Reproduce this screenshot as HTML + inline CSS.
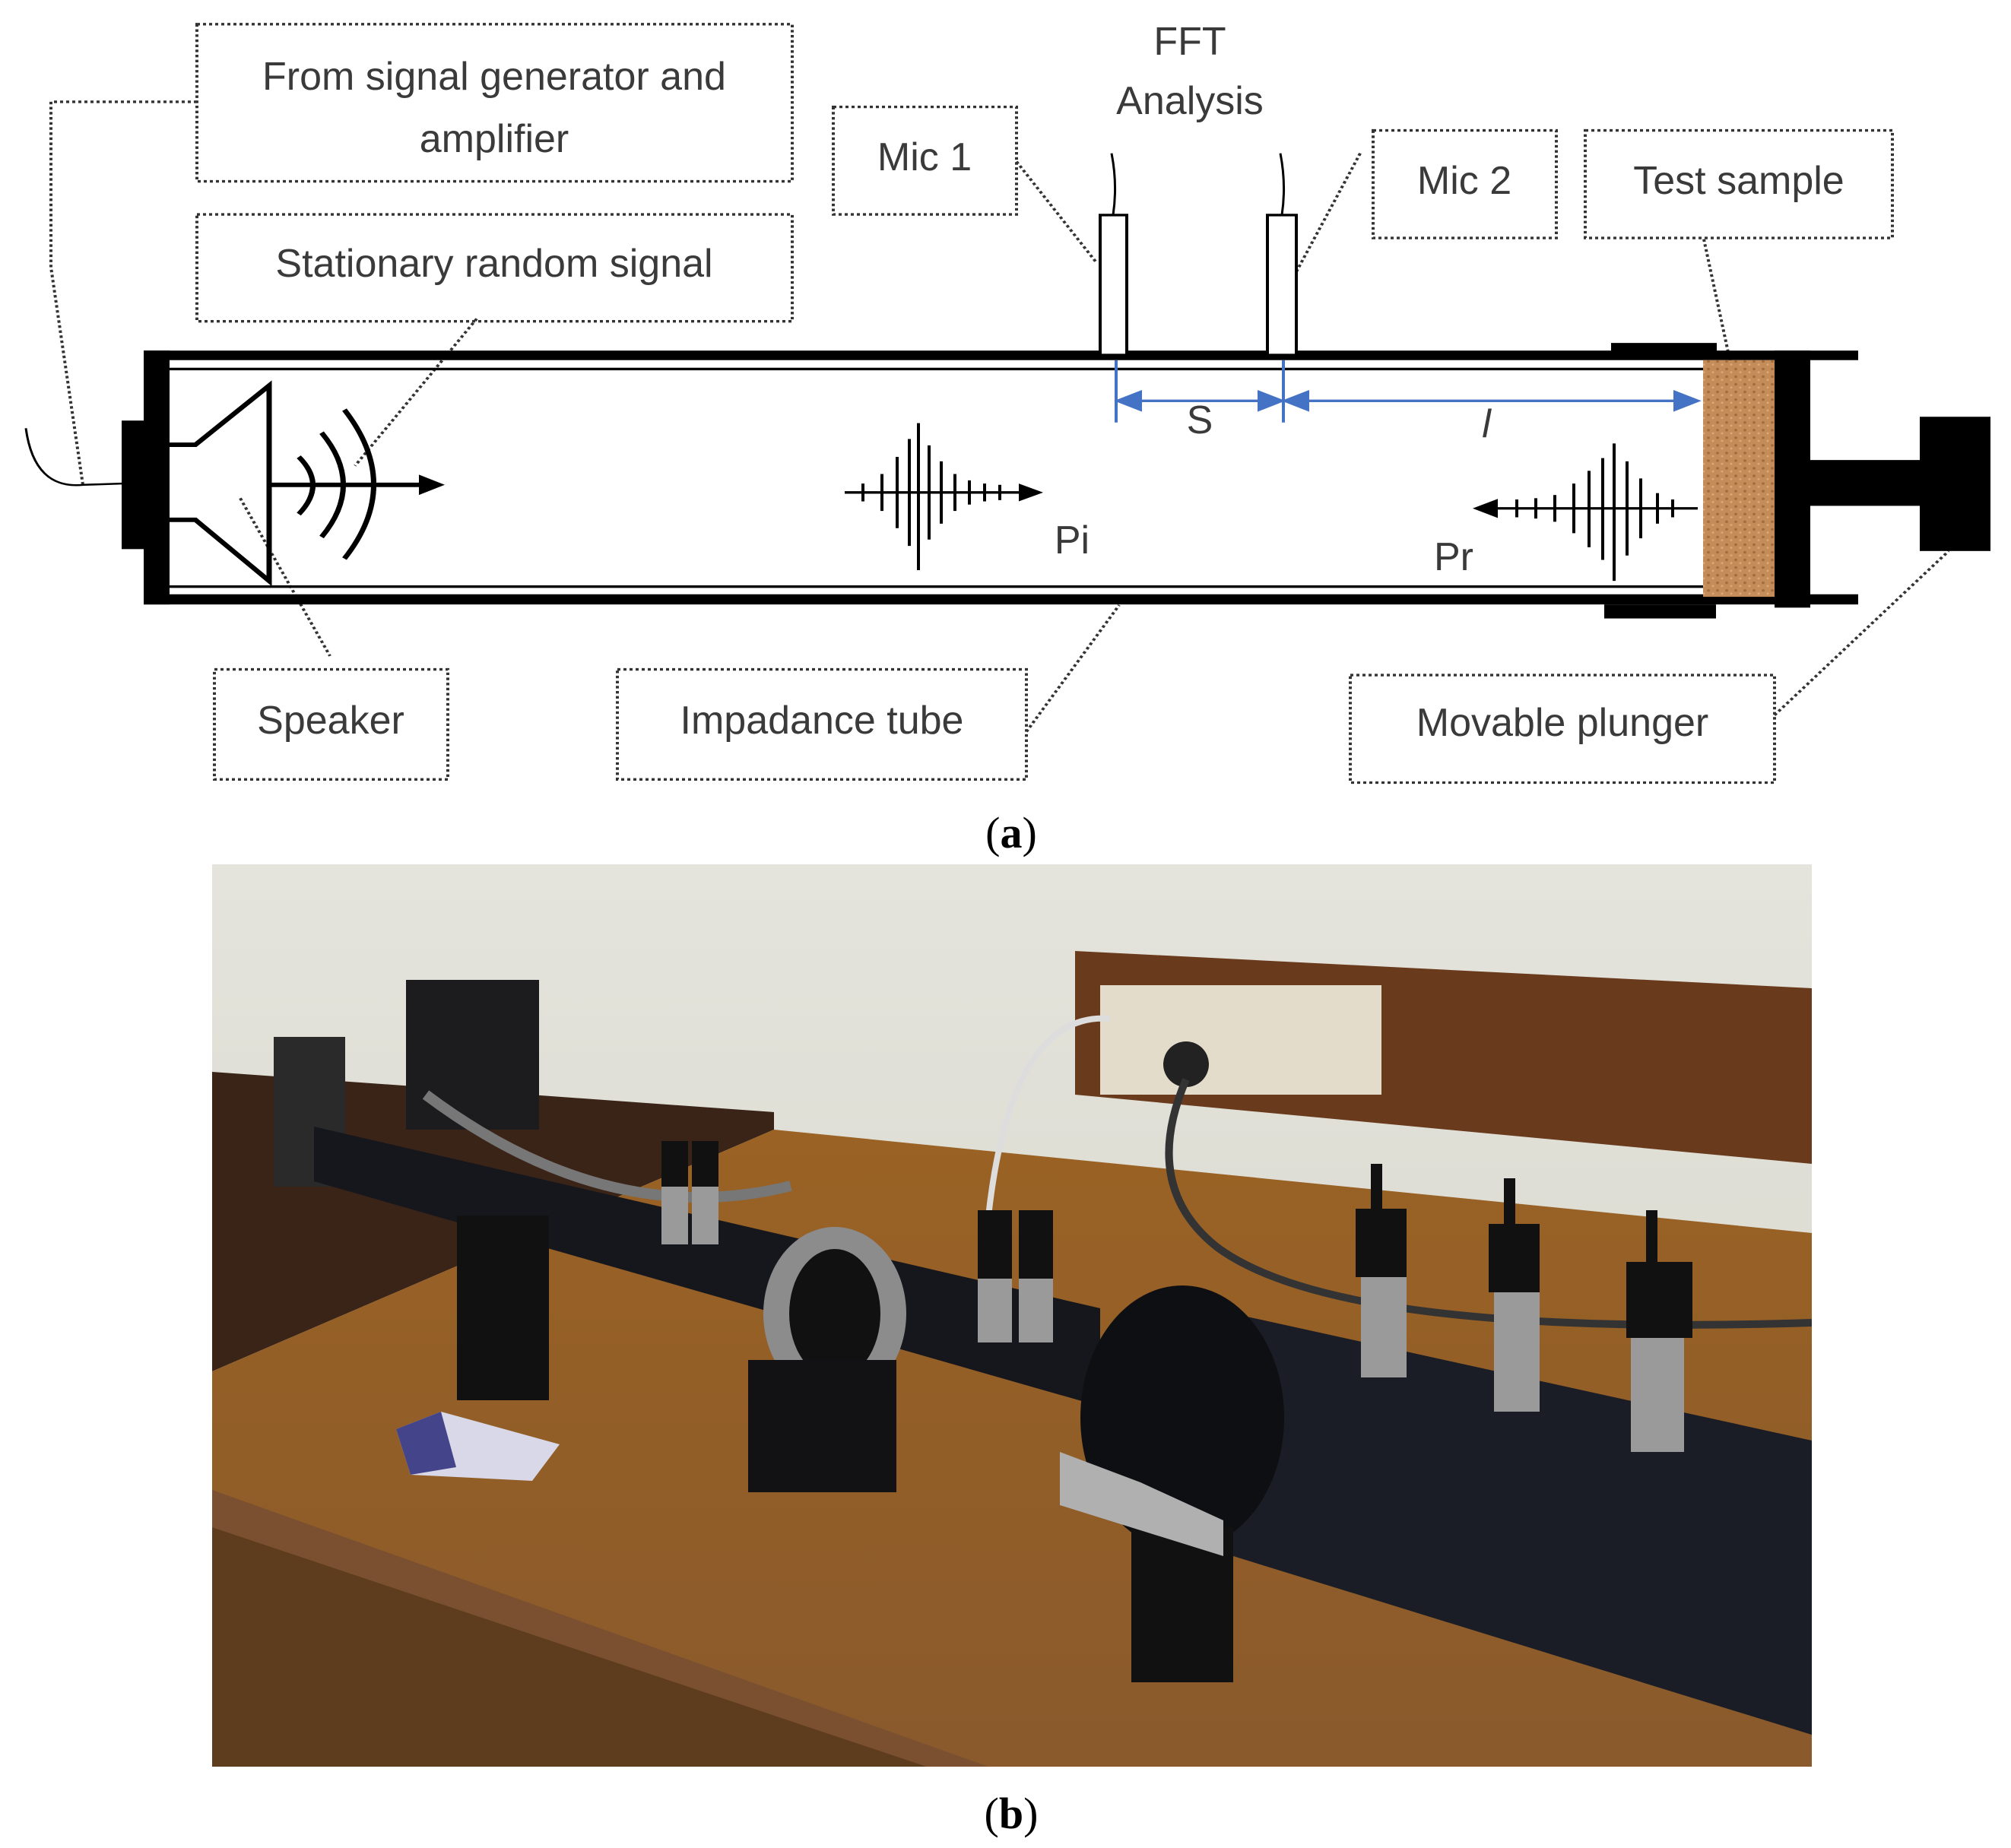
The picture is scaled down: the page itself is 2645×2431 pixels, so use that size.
<!DOCTYPE html>
<html><head><meta charset="utf-8"><style>
html,body{margin:0;padding:0;background:#fff;}
svg{display:block;}
text{font-family:"Liberation Sans",sans-serif;fill:#3a3a3a;}
</style></head><body>
<svg width="2645" height="2431" viewBox="0 0 2645 2431" xmlns="http://www.w3.org/2000/svg">
<defs>
<pattern id="cork" width="12" height="12" patternUnits="userSpaceOnUse">
<rect width="12" height="12" fill="#c48c58"/><circle cx="3" cy="4" r="2" fill="#a36c3c"/><circle cx="9" cy="9" r="1.6" fill="#dcaa76"/>
</pattern>
<linearGradient id="wall" x1="0" y1="0" x2="0" y2="1"><stop offset="0" stop-color="#e4e4dc"/><stop offset="1" stop-color="#d6d4ca"/></linearGradient>
<linearGradient id="desk" x1="0" y1="0" x2="0" y2="1"><stop offset="0" stop-color="#9a6224"/><stop offset="1" stop-color="#8a5a2c"/></linearGradient>
<clipPath id="ph"><rect x="279" y="1137" width="2104" height="1187"/></clipPath>
</defs>
<g transform="scale(1,0.837)">
<g fill="none" stroke="#333" stroke-width="4" stroke-dasharray="4 4">
<rect x="259" y="38" width="783" height="247"/>
<rect x="259" y="337" width="783" height="168"/>
<rect x="1096" y="168" width="241" height="169"/>
<rect x="1806" y="205" width="241" height="169"/>
<rect x="2085" y="205" width="404" height="169"/>
<rect x="282" y="1052" width="307" height="173"/>
<rect x="812" y="1052" width="538" height="173"/>
<rect x="1776" y="1061" width="558" height="169"/>
<polyline points="259,160 67,160 67,420 109,762"/>
<line x1="627" y1="501" x2="467" y2="732"/>
<line x1="316" y1="783" x2="434" y2="1031"/>
<line x1="1337" y1="254" x2="1443" y2="414"/>
<line x1="1789" y1="241" x2="1692" y2="456"/>
<line x1="2241" y1="376" x2="2292" y2="659"/>
<line x1="1350" y1="1150" x2="1472" y2="951"/>
<line x1="2334" y1="1124" x2="2563" y2="866"/>
</g>
<g fill="#000">
<rect x="189" y="551" width="2255" height="15"/>
<rect x="189" y="934" width="2255" height="16"/>
<rect x="189" y="551" width="34" height="399"/>
<rect x="160" y="661" width="30" height="202"/>
<rect x="2119" y="539" width="139" height="20"/>
<rect x="2110" y="950" width="147" height="22"/>
<rect x="2334" y="551" width="47" height="404"/>
<rect x="2381" y="723" width="144" height="72"/>
<rect x="2525" y="655" width="93" height="211"/>
</g>
<line x1="223" y1="580" x2="2240" y2="580" stroke="#000" stroke-width="4"/>
<line x1="223" y1="922" x2="2240" y2="922" stroke="#000" stroke-width="4"/>
<rect x="2240" y="566" width="94" height="372" fill="url(#cork)"/>
<g fill="none" stroke="#000" stroke-width="7">
<polyline points="223,699 257,699 354,606 354,913 257,817 223,817"/>
<line x1="354" y1="762" x2="560" y2="762"/>
<path d="M393,718 Q430,762 393,808"/>
<path d="M423,680 Q480,762 423,844"/>
<path d="M453,644 Q530,762 453,878"/>
<path d="M34,673 Q45,770 110,762 L160,760" stroke-width="3"/>
</g>
<polygon points="585,762 551,746 551,778" fill="#000"/>
<g fill="#fff" stroke="#000" stroke-width="4">
<rect x="1447" y="338" width="35" height="220"/>
<rect x="1667" y="338" width="38" height="220"/>
</g>
<g fill="none" stroke="#000" stroke-width="3">
<path d="M1464,338 Q1470,290 1462,241"/>
<path d="M1686,338 Q1692,290 1684,241"/>
</g>
<g stroke="#4472c4" stroke-width="4" fill="#4472c4">
<line x1="1468" y1="566" x2="1468" y2="664"/>
<line x1="1688" y1="566" x2="1688" y2="664"/>
<line x1="1470" y1="630" x2="2233" y2="630"/>
<polygon points="1470,630 1500,616 1500,644"/>
<polygon points="1686,630 1656,616 1656,644"/>
<polygon points="1690,630 1720,616 1720,644"/>
<polygon points="2233,630 2203,616 2203,644"/>
</g>
<g stroke="#000" stroke-width="4">
<line x1="1111" y1="774" x2="1360" y2="774"/>
<line x1="1135" y1="760" x2="1135" y2="788"/>
<line x1="1160" y1="745" x2="1160" y2="803"/>
<line x1="1180" y1="718" x2="1180" y2="830"/>
<line x1="1196" y1="690" x2="1196" y2="858"/>
<line x1="1208" y1="665" x2="1208" y2="896"/>
<line x1="1222" y1="700" x2="1222" y2="848"/>
<line x1="1238" y1="725" x2="1238" y2="823"/>
<line x1="1256" y1="745" x2="1256" y2="803"/>
<line x1="1275" y1="755" x2="1275" y2="793"/>
<line x1="1295" y1="760" x2="1295" y2="788"/>
<line x1="1315" y1="762" x2="1315" y2="786"/>
<line x1="1950" y1="799" x2="2233" y2="799"/>
<line x1="1995" y1="785" x2="1995" y2="813"/>
<line x1="2020" y1="783" x2="2020" y2="815"/>
<line x1="2045" y1="778" x2="2045" y2="820"/>
<line x1="2070" y1="760" x2="2070" y2="838"/>
<line x1="2090" y1="740" x2="2090" y2="860"/>
<line x1="2108" y1="720" x2="2108" y2="880"/>
<line x1="2123" y1="697" x2="2123" y2="913"/>
<line x1="2140" y1="725" x2="2140" y2="873"/>
<line x1="2158" y1="752" x2="2158" y2="846"/>
<line x1="2180" y1="775" x2="2180" y2="823"/>
<line x1="2200" y1="785" x2="2200" y2="813"/>
</g>
<polygon points="1372,774 1340,760 1340,788" fill="#000"/>
<polygon points="1937,799 1970,784 1970,814" fill="#000"/>
</g>
<g font-size="52" text-anchor="middle">
<text x="650" y="118">From signal generator and</text>
<text x="650" y="200">amplifier</text>
<text x="650" y="364">Stationary random signal</text>
<text x="1216" y="224">Mic 1</text>
<text x="1926" y="255">Mic 2</text>
<text x="2287" y="255">Test sample</text>
<text x="435" y="965">Speaker</text>
<text x="1081" y="965">Impadance tube</text>
<text x="2055" y="968">Movable plunger</text>
<text x="1565" y="72">FFT</text>
<text x="1565" y="150">Analysis</text>
<text x="1578" y="570">S</text>
<text x="1955" y="575" font-style="italic">l</text>
<text x="1410" y="728">Pi</text>
<text x="1912" y="750">Pr</text>
</g>
<text x="1330" y="1115" font-size="58" text-anchor="middle" style="font-family:'Liberation Serif',serif;fill:#000">(<tspan font-weight="bold">a</tspan>)</text>
<g clip-path="url(#ph)">
<rect x="279" y="1137" width="2104" height="1187" fill="url(#wall)"/>
<polygon points="1414,1251 2383,1300 2383,1531 1414,1440" fill="#6a3a1c"/>
<rect x="1447" y="1296" width="370" height="144" fill="#e4dccb"/>
<circle cx="1560" cy="1400" r="30" fill="#222"/>
<polygon points="279,1410 1018,1463 1018,1486 279,1804" fill="#3a2418"/>
<polygon points="279,1804 1018,1486 2383,1622 2383,2324 279,2324" fill="url(#desk)"/>
<polygon points="279,2009 1219,2324 279,2324" fill="#5e3c1e"/>
<polygon points="279,1960 1300,2324 1219,2324 279,2009" fill="#7a5030"/>
<rect x="534" y="1289" width="175" height="197" fill="#1c1c1e"/>
<rect x="360" y="1364" width="94" height="197" fill="#2a2a2a"/>
<path d="M560,1440 Q800,1620 1040,1560" stroke="#777" stroke-width="14" fill="none"/>
<path d="M1300,1600 Q1330,1330 1460,1340" stroke="#ddd" stroke-width="8" fill="none"/>
<path d="M1560,1420 Q1500,1560 1600,1640 Q1760,1760 2383,1740" stroke="#333" stroke-width="10" fill="none"/>
<polygon points="413,1482 1447,1721 1447,1850 413,1554" fill="#15171c"/>
<rect x="601" y="1599" width="121" height="243" fill="#111"/>
<ellipse cx="1098" cy="1728" rx="94" ry="114" fill="#8c8c8c"/>
<ellipse cx="1098" cy="1728" rx="60" ry="85" fill="#111"/>
<rect x="984" y="1789" width="195" height="174" fill="#121214"/>
<polygon points="1622,1728 2383,1895 2383,2282 1622,2047" fill="#1a1d25"/>
<ellipse cx="1555" cy="1865" rx="134" ry="174" fill="#0e0f12"/>
<rect x="1488" y="2009" width="134" height="204" fill="#111"/>
<polygon points="1394,1910 1500,1950 1609,2000 1609,2047 1394,1980" fill="#b0b0b0"/>
<g fill="#9a9a9a">
<rect x="870" y="1560" width="35" height="77"/><rect x="910" y="1560" width="35" height="77"/>
<rect x="1286" y="1680" width="45" height="86"/><rect x="1340" y="1680" width="45" height="86"/>
<rect x="1790" y="1680" width="60" height="132"/>
<rect x="1965" y="1700" width="60" height="157"/>
<rect x="2145" y="1760" width="70" height="150"/>
</g>
<g fill="#111">
<rect x="870" y="1501" width="35" height="60"/><rect x="910" y="1501" width="35" height="60"/>
<rect x="1286" y="1592" width="45" height="90"/><rect x="1340" y="1592" width="45" height="90"/>
<rect x="1803" y="1531" width="15" height="60"/><rect x="1783" y="1590" width="67" height="90"/>
<rect x="1978" y="1550" width="15" height="60"/><rect x="1958" y="1610" width="67" height="90"/>
<rect x="2165" y="1592" width="15" height="70"/><rect x="2139" y="1660" width="87" height="100"/>
</g>
<polygon points="521,1880 580,1857 736,1900 700,1948 540,1940" fill="#d8d8e8"/>
<polygon points="521,1880 580,1857 600,1930 540,1940" fill="#44448a"/>
</g>
<text x="1330" y="2405" font-size="58" text-anchor="middle" style="font-family:'Liberation Serif',serif;fill:#000">(<tspan font-weight="bold">b</tspan>)</text>
</svg>
</body></html>
